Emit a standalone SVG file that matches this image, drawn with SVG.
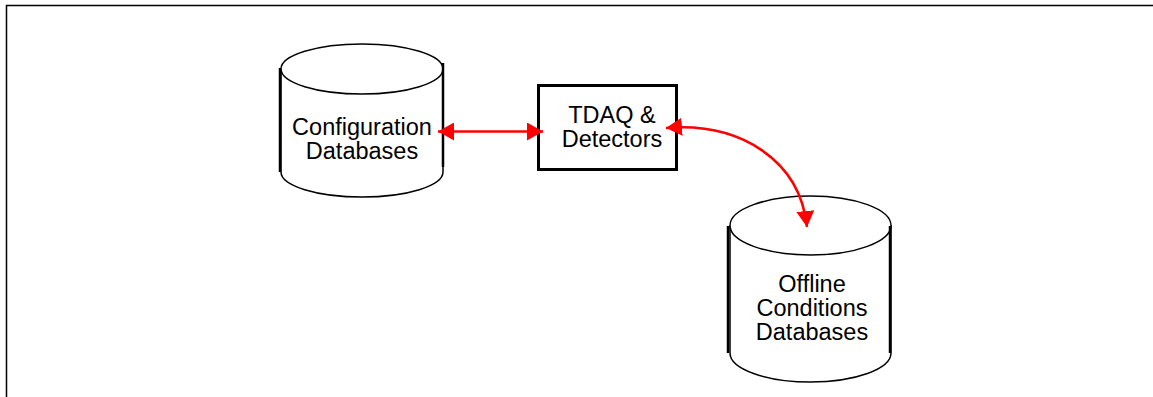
<svg xmlns="http://www.w3.org/2000/svg" width="1153" height="397" viewBox="0 0 1153 397">
<style>
.cyl{fill:#fff;stroke:#000;stroke-width:1.5}
.side{stroke:#000;stroke-width:2.5;fill:none}
.lbl{font-family:"Liberation Sans",Arial,sans-serif;font-size:23.5px;fill:#000;text-anchor:middle}
.conn{stroke:#f00;stroke-width:2.5;fill:none}
</style>
<defs>
<marker id="ah" viewBox="0 0 16 18" refX="16" refY="9" markerWidth="16" markerHeight="18" orient="auto-start-reverse" markerUnits="userSpaceOnUse">
<path d="M0,0 L16,9 L0,18 z" fill="#f00"/>
</marker>
</defs>
<rect width="1153" height="397" fill="#fff"/>
<path d="M6.5,397 V5.5 H1153" fill="none" stroke="#000" stroke-width="1.5"/>
<g id="config-db">
<path class="cyl" d="M281,69 V172 A81,25 0 0 0 443,172 V69 Z"/>
<ellipse class="cyl" cx="362" cy="69" rx="81" ry="25"/>
<line class="side" x1="280" y1="68" x2="280" y2="172"/>
<line class="side" x1="443" y1="63" x2="443" y2="167"/>
<text class="lbl" x="362" y="135">Configuration</text>
<text class="lbl" x="362" y="159">Databases</text>
</g>
<g id="tdaq">
<rect x="538.5" y="85.5" width="138" height="84" fill="#fff" stroke="#000" stroke-width="3"/>
<text class="lbl" x="612" y="123">TDAQ &amp;</text>
<text class="lbl" x="612" y="147">Detectors</text>
</g>
<g id="offline-db">
<path class="cyl" d="M730,226 V353 A80.5,29 0 0 0 891,353 V226 Z"/>
<ellipse class="cyl" cx="810.5" cy="225.5" rx="80.5" ry="29.5"/>
<line class="side" x1="728" y1="226" x2="728" y2="353"/>
<line class="side" x1="890" y1="226" x2="890" y2="353"/>
<text class="lbl" x="812" y="292">Offline</text>
<text class="lbl" x="812" y="316">Conditions</text>
<text class="lbl" x="812" y="340">Databases</text>
</g>
<g id="connectors">
<line class="conn" x1="438" y1="131.5" x2="543" y2="131.5" marker-start="url(#ah)" marker-end="url(#ah)"/>
<path class="conn" d="M666,128 C740,122 800,160 807,227" marker-start="url(#ah)" marker-end="url(#ah)"/>
</g>
</svg>
